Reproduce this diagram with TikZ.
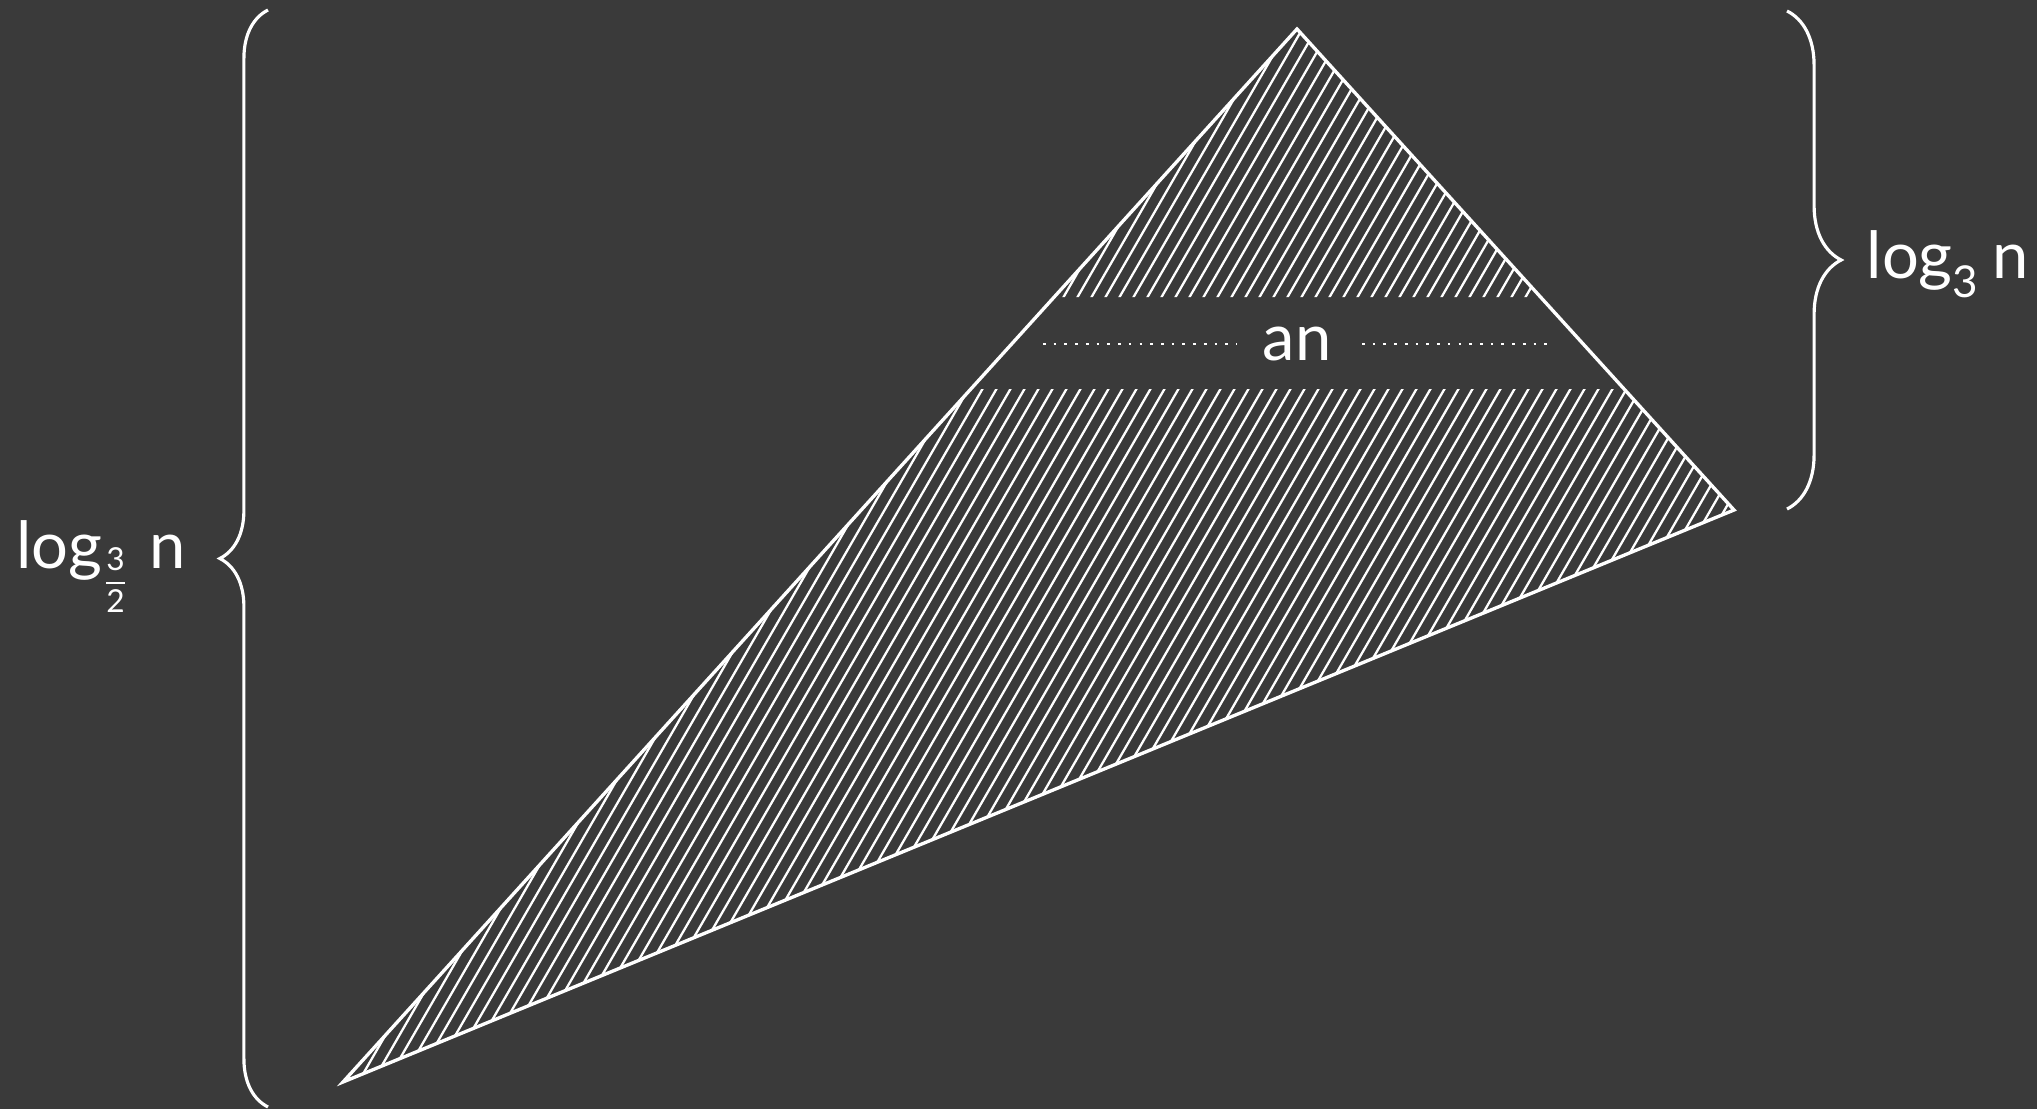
\documentclass[tikz,border=0pt]{standalone}
\usepackage{fontspec}
\usepackage{amsmath}
\setmainfont{Lato}
\usetikzlibrary{decorations.pathreplacing}
\definecolor{board}{RGB}{58,58,58}
\newcommand{\subthree}{\raisebox{-5.5pt}{\fontsize{12.5}{12.5}\selectfont 3}}
\newcommand{\subfrac}{\raisebox{-6.5pt}{\fontsize{9}{9}\selectfont$\dfrac{\text{3}}{\text{2}}$}}
\tikzset{
  chalk/.style={draw=white, line width=0.95pt, line join=miter},
  hatch/.style={white, line width=0.65pt},
  bracel/.style={white, line width=0.9pt, decorate, decoration={brace, amplitude=13.7pt}},
  bracer/.style={white, line width=0.9pt, decorate, decoration={brace, amplitude=15.4pt}},
  dotline/.style={white, line width=0.75pt, dash pattern=on 0.75pt off 2.3pt},
  lbl/.style={text=white, inner sep=0pt, font=\fontsize{18.5}{22}\selectfont},
}
\begin{document}
\begin{tikzpicture}[x=0.01cm, y=-0.01cm]
    % Tafel
    \useasboundingbox (0,0) rectangle (2037,1109);
    \fill[board] (0,0) rectangle (2037,1109);

    % Ecken des Dreiecks
    \coordinate (apex) at (1297,29);
    \coordinate (rgt) at (1734,510);
    \coordinate (lft) at (343,1082);

    % Schraffur ohne den mittleren Streifen
    \begin{scope}
        \clip (apex) -- (rgt) -- (lft) -- cycle;
        \clip (0,0) rectangle (2037,297) (0,389) rectangle (2037,1109);
        \foreach \s in {320,334,...,1420}
            \draw[hatch] (\s,1100) -- ++(635,-1100);
    \end{scope}
    \draw[chalk] (apex) -- (rgt) -- (lft) -- cycle;

    % Streifen
    \node[lbl] (an) at (1297,344) {an};
    \coordinate (dotLa) at (1043,344);
    \coordinate (dotLb) at (1237,344);
    \coordinate (dotRa) at (1362,344);
    \coordinate (dotRb) at (1555,344);
    \draw[dotline] (dotLa) -- (dotLb);
    \draw[dotline] (dotRa) -- (dotRb);

    % Klammern
    \coordinate (lbrB) at (268,1107);
    \coordinate (lbrT) at (268,10);
    \coordinate (rbrT) at (1787,11);
    \coordinate (rbrB) at (1787,509);
    \draw[bracel] (lbrB) -- (lbrT);
    \draw[bracer] (rbrT) -- (rbrB);
    \node[lbl, anchor=base east] (loglft) at (187,568)
        {log\subfrac\hspace{6pt}n};
    \node[lbl, anchor=base west] (logrgt) at (1866,278)
        {log\subthree\hspace{4pt}n};
\end{tikzpicture}
\end{document}
